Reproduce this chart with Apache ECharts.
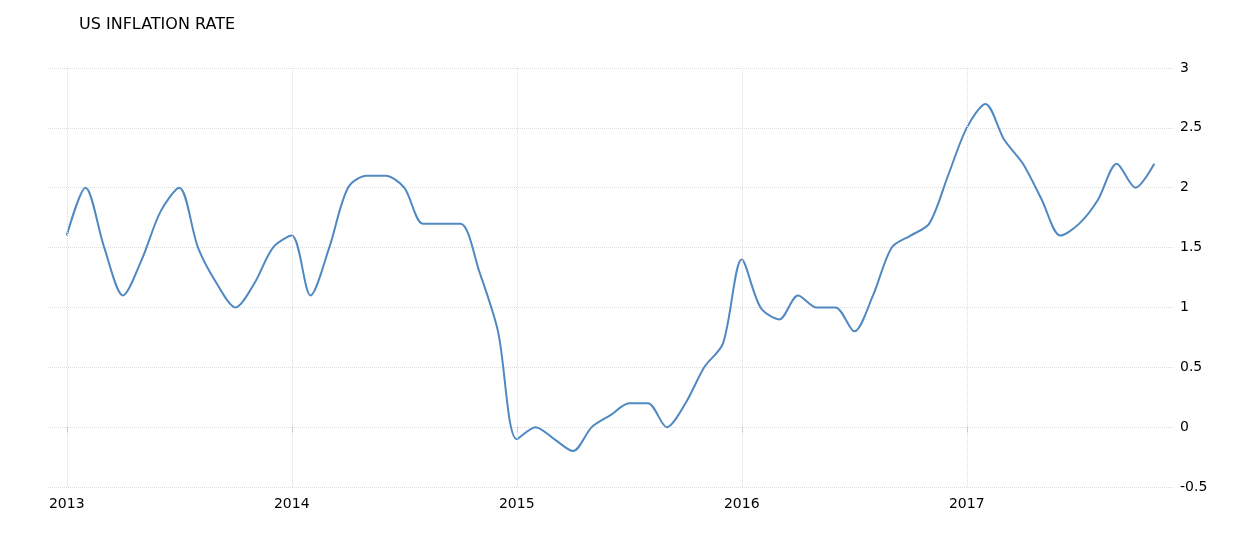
<!DOCTYPE html>
<html>
<head>
<meta charset="utf-8">
<script src="https://cdn.jsdelivr.net/npm/echarts@6/dist/echarts.min.js"></script>
<style>
html,body{margin:0;padding:0;background:#fff;}
#chart{width:1247px;height:541px;}
</style>
</head>
<body>
<div id="chart"></div>
<script>
var title = 'US INFLATION RATE';
var yearLabels = ['2013', '2014', '2015', '2016', '2017'];
var yearTicks = [0, 12, 24, 36, 48]; // month index of each January
var inflation = [
  1.6, 2.0, 1.5, 1.1, 1.4, 1.8, 2.0, 1.5, 1.2, 1.0, 1.2, 1.5,
  1.6, 1.1, 1.5, 2.0, 2.1, 2.1, 2.0, 1.7, 1.7, 1.7, 1.3, 0.8,
  -0.1, 0.0, -0.1, -0.2, 0.0, 0.1, 0.2, 0.2, 0.0, 0.2, 0.5, 0.7,
  1.4, 1.0, 0.9, 1.1, 1.0, 1.0, 0.8, 1.1, 1.5, 1.6, 1.7, 2.1,
  2.5, 2.7, 2.4, 2.2, 1.9, 1.6, 1.7, 1.9, 2.2, 2.0, 2.2
];

var seriesData = inflation.map(function (v, i) { return [i, v]; });
var FONT = '"DejaVu Sans", sans-serif';

var chart = echarts.init(document.getElementById('chart'), null, {renderer: 'canvas'});
chart.setOption({
  animation: false,
  backgroundColor: '#fff',
  title: {
    text: title,
    left: 74,
    top: 12,
    textStyle: {fontFamily: FONT, fontSize: 16, fontWeight: 'normal', color: '#000'}
  },
  grid: {left: 48, right: 74, top: 68, bottom: 54, containLabel: false},
  xAxis: {
    type: 'value',
    min: -1,
    max: 59,
    axisLine: {show: false},
    axisTick: {
      show: true,
      customValues: yearTicks,
      length: 6,
      lineStyle: {color: '#bbb'}
    },
    axisLabel: {
      show: true,
      customValues: yearTicks,
      margin: 10,
      fontFamily: FONT,
      fontSize: 14,
      color: '#000',
      formatter: function (v) {
        var idx = yearTicks.indexOf(v);
        return idx >= 0 ? yearLabels[idx] : '';
      }
    },
    splitLine: {show: false}
  },
  yAxis: {
    type: 'value',
    position: 'right',
    min: -0.5,
    max: 3,
    interval: 0.5,
    axisLine: {show: false},
    axisTick: {show: false},
    axisLabel: {
      margin: 7,
      fontFamily: FONT,
      fontSize: 14,
      color: '#000',
      align: 'left'
    },
    splitLine: {show: true, lineStyle: {color: '#ddd', type: 'dotted', width: 1}}
  },
  series: [{
    type: 'line',
    data: seriesData,
    smooth: 0.3,
    showSymbol: false,
    symbol: 'none',
    lineStyle: {color: '#5089c2', width: 2},
    markLine: {
      silent: true,
      symbol: 'none',
      label: {show: false},
      lineStyle: {color: '#ddd', type: 'dotted', width: 1},
      data: yearTicks.map(function (t) { return {xAxis: t}; })
    },
    z: 3
  }]
});
</script>
</body>
</html>
